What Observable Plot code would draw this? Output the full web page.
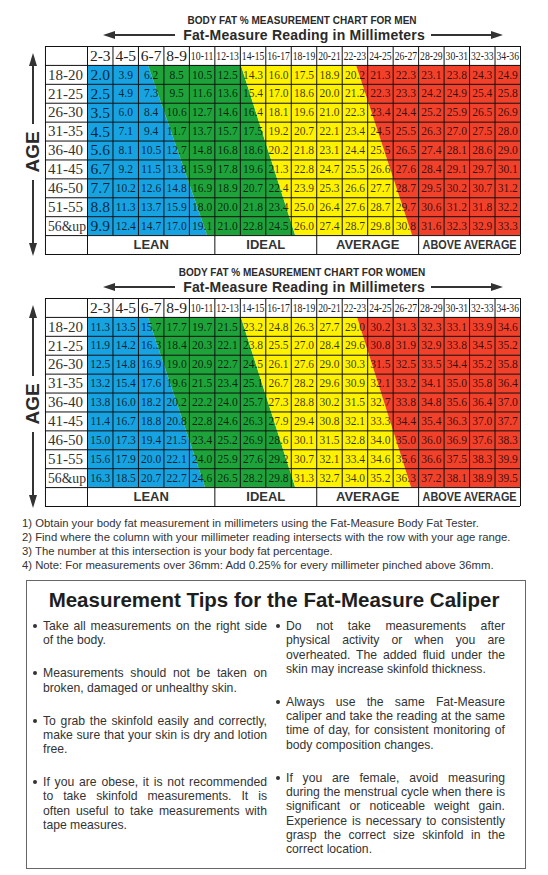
<!DOCTYPE html>
<html>
<head>
<meta charset="utf-8">
<script src="https://cdn.jsdelivr.net/npm/d3@7"></script>
<script src="https://cdn.jsdelivr.net/npm/@observablehq/plot@0.6"></script>
<style>
  body { margin: 0; background: #fff; }
  #page { position: relative; width: 548px; height: 875px; overflow: hidden;
          font-family: "Liberation Sans", Arial, sans-serif; color: #222; background: #fff; }
  .abs { position: absolute; }
  .title { font-weight: bold; font-size: 10px; white-space: nowrap; transform: translate(-50%, -50%); color: #2a2a2a; }
  .subtitle { font-weight: bold; font-size: 14px; letter-spacing: 0.2px; white-space: nowrap; transform: translate(-50%, -50%); color: #2a2a2a; }
  .age { font-weight: bold; font-size: 19px; white-space: nowrap; transform: translate(-50%, -50%) rotate(-90deg); color: #2a2a2a; }
  .line { background: #333; }
  .notes { font-size: 11.3px; line-height: 14px; color: #333; white-space: nowrap; }
  .box { border: 1.5px solid #666; box-sizing: border-box; }
  .boxhead { font-weight: bold; font-size: 20.5px; white-space: nowrap; transform: translateX(-50%); color: #1e1e1e; }
  .col { font-size: 12.2px; line-height: 14.3px; color: #333; }
  .para { position: relative; margin-bottom: 18.7px; }
  .para .ln { text-align: justify; text-align-last: justify; white-space: nowrap; }
  .para .ln.last { text-align-last: left; }
  .bullet { position: absolute; left: -10px; top: 5px; width: 4px; height: 4px; border-radius: 50%; background: #333; }
</style>
</head>
<body>
<div id="page"></div>
<script>
// ---------- data ----------
const mmColumns = ["2-3","4-5","6-7","8-9","10-11","12-13","14-15","16-17","18-19","20-21","22-23","24-25","26-27","28-29","30-31","32-33","34-36"];
const ageGroups = ["18-20","21-25","26-30","31-35","36-40","41-45","46-50","51-55","56&up"];

const menFat = [
  [2.0, 3.9, 6.2, 8.5,10.5,12.5,14.3,16.0,17.5,18.9,20.2,21.3,22.3,23.1,23.8,24.3,24.9],
  [2.5, 4.9, 7.3, 9.5,11.6,13.6,15.4,17.0,18.6,20.0,21.2,22.3,23.3,24.2,24.9,25.4,25.8],
  [3.5, 6.0, 8.4,10.6,12.7,14.6,16.4,18.1,19.6,21.0,22.3,23.4,24.4,25.2,25.9,26.5,26.9],
  [4.5, 7.1, 9.4,11.7,13.7,15.7,17.5,19.2,20.7,22.1,23.4,24.5,25.5,26.3,27.0,27.5,28.0],
  [5.6, 8.1,10.5,12.7,14.8,16.8,18.6,20.2,21.8,23.1,24.4,25.5,26.5,27.4,28.1,28.6,29.0],
  [6.7, 9.2,11.5,13.8,15.9,17.8,19.6,21.3,22.8,24.7,25.5,26.6,27.6,28.4,29.1,29.7,30.1],
  [7.7,10.2,12.6,14.8,16.9,18.9,20.7,22.4,23.9,25.3,26.6,27.7,28.7,29.5,30.2,30.7,31.2],
  [8.8,11.3,13.7,15.9,18.0,20.0,21.8,23.4,25.0,26.4,27.6,28.7,29.7,30.6,31.2,31.8,32.2],
  [9.9,12.4,14.7,17.0,19.1,21.0,22.8,24.5,26.0,27.4,28.7,29.8,30.8,31.6,32.3,32.9,33.3]
];
const womenFat = [
  [11.3,13.5,15.7,17.7,19.7,21.5,23.2,24.8,26.3,27.7,29.0,30.2,31.3,32.3,33.1,33.9,34.6],
  [11.9,14.2,16.3,18.4,20.3,22.1,23.8,25.5,27.0,28.4,29.6,30.8,31.9,32.9,33.8,34.5,35.2],
  [12.5,14.8,16.9,19.0,20.9,22.7,24.5,26.1,27.6,29.0,30.3,31.5,32.5,33.5,34.4,35.2,35.8],
  [13.2,15.4,17.6,19.6,21.5,23.4,25.1,26.7,28.2,29.6,30.9,32.1,33.2,34.1,35.0,35.8,36.4],
  [13.8,16.0,18.2,20.2,22.2,24.0,25.7,27.3,28.8,30.2,31.5,32.7,33.8,34.8,35.6,36.4,37.0],
  [11.4,16.7,18.8,20.8,22.8,24.6,26.3,27.9,29.4,30.8,32.1,33.3,34.4,35.4,36.3,37.0,37.7],
  [15.0,17.3,19.4,21.5,23.4,25.2,26.9,28.6,30.1,31.5,32.8,34.0,35.0,36.0,36.9,37.6,38.3],
  [15.6,17.9,20.0,22.1,24.0,25.9,27.6,29.2,30.7,32.1,33.4,34.6,35.6,36.6,37.5,38.3,39.9],
  [16.3,18.5,20.7,22.7,24.6,26.5,28.2,29.8,31.3,32.7,34.0,35.2,36.3,37.2,38.1,38.9,39.5]
];

const zoneNames = ["LEAN","IDEAL","AVERAGE","ABOVE AVERAGE"];
const zoneSpans = [5, 4, 4, 4];               // columns under each footer label
const zoneColors = ["#17a2e2","#1ea33b","#fff200","#f2412b"];
// diagonal zone boundaries (in column units) at the top and bottom of the table
const menBoundTop = [2.39, 6.04, 10.56];
const menBoundBottom = [4.71, 8.17, 12.76];
const womenBoundTop = [2.39, 6.04, 10.6];
const womenBoundBottom = [4.63, 8.17, 12.72];

const notes = [
  "1) Obtain your body fat measurement in millimeters using the Fat-Measure Body Fat Tester.",
  "2) Find where the column with your millimeter reading intersects with the row with your age range.",
  "3) The number at this intersection is your body fat percentage.",
  "4) Note: For measurements over 36mm: Add 0.25% for every millimeter pinched above 36mm."
];
const tipsHeading = "Measurement Tips for the Fat-Measure Caliper";
const tipsLeft = [
  ["Take all measurements on the right side", "of the body."],
  ["Measurements should not be taken on", "broken, damaged or unhealthy skin."],
  ["To grab the skinfold easily and correctly,", "make sure that your skin is dry and lotion", "free."],
  ["If you are obese, it is not recommended", "to take skinfold measurements. It is", "often useful to take measurements with", "tape measures."]
];
const tipsRight = [
  ["Do not take measurements after", "physical activity or when you are", "overheated. The added fluid under the", "skin may increase skinfold thickness."],
  ["Always use the same Fat-Measure", "caliper and take the reading at the same", "time of day, for consistent monitoring of", "body composition changes."],
  ["If you are female, avoid measuring", "during the menstrual cycle when there is", "significant or noticeable weight gain.", "Experience is necessary to consistently", "grasp the correct size skinfold in the", "correct location."]
];

// ---------- layout helpers ----------
const page = document.getElementById("page");
const AGE_COL = 1.65; // width of age-label column, in data-column units

function el(cls, style, text) {
  const d = document.createElement("div");
  d.className = "abs " + cls;
  Object.assign(d.style, style);
  if (text != null) d.textContent = text;
  page.appendChild(d);
  return d;
}
function hArrow(xTail, xTip, y) {
  const left = Math.min(xTail, xTip), w = Math.abs(xTip - xTail);
  el("line", {left: left + "px", top: (y - 0.75) + "px", width: (w - 6) + "px", height: "1.5px",
              marginLeft: (xTip < xTail ? 6 : 0) + "px"});
  const head = el("", {top: (y - 4) + "px", width: 0, height: 0,
    borderTop: "4px solid transparent", borderBottom: "4px solid transparent"});
  if (xTip < xTail) { head.style.left = xTip + "px"; head.style.borderRight = "12px solid #333"; }
  else { head.style.left = (xTip - 12) + "px"; head.style.borderLeft = "12px solid #333"; }
}
function vArrow(x, yTail, yTip) {
  const top = Math.min(yTail, yTip), h = Math.abs(yTip - yTail);
  el("line", {left: (x - 0.9) + "px", top: (top + (yTip < yTail ? 6 : 0)) + "px", width: "1.8px", height: (h - 6) + "px"});
  const head = el("", {left: (x - 4.5) + "px", width: 0, height: 0,
    borderLeft: "4.5px solid transparent", borderRight: "4.5px solid transparent"});
  if (yTip < yTail) { head.style.top = yTip + "px"; head.style.borderBottom = "13px solid #333"; }
  else { head.style.top = (yTip - 13) + "px"; head.style.borderTop = "13px solid #333"; }
}

function fatTable(values, bTop, bBottom, bigFirstCol) {
  const nCols = mmColumns.length, nRows = ageGroups.length, last = zoneNames.length - 1;
  const zoneAreas = zoneNames.flatMap((zone, i) => [
    {zone, y: 0,     x1: i === 0 ? 0 : bTop[i - 1],    x2: i === last ? nCols : bTop[i]},
    {zone, y: nRows, x1: i === 0 ? 0 : bBottom[i - 1], x2: i === last ? nCols : bBottom[i]}
  ]);
  const cells = values.flatMap((row, r) => row.map((v, c) => ({r, c, v})));
  let acc = 0;
  const footer = zoneNames.map((z, i) => { const s = acc; acc += zoneSpans[i]; return {z, x1: s, x2: acc}; });
  const footerEdges = [-AGE_COL, 0, ...footer.map(d => d.x2)];
  const colEdges = [-AGE_COL, ...d3.range(0, nCols + 1)];
  const rowEdges = d3.range(-1, nRows + 2);
  const big = d => bigFirstCol && d.c === 0;

  const svg = Plot.plot({
    width: 548, height: 210,
    marginTop: 1, marginBottom: 1, marginLeft: 87, marginRight: 28,
    x: {domain: [0, nCols], axis: null},
    y: {domain: [-1, nRows + 1], reverse: true, axis: null},
    color: {domain: zoneNames, range: zoneColors},
    style: {fontFamily: "'Liberation Serif', 'Times New Roman', serif", background: "transparent", overflow: "visible"},
    marks: [
      Plot.areaX(zoneAreas, {y: "y", x1: "x1", x2: "x2", fill: "zone", curve: "linear"}),
      Plot.ruleX(colEdges, {x: d => d, y1: -1, y2: nRows, stroke: "#111", strokeWidth: 1}),
      Plot.ruleX(footerEdges, {x: d => d, y1: nRows, y2: nRows + 1, stroke: "#111", strokeWidth: 1}),
      Plot.ruleY(rowEdges, {y: d => d, x1: -AGE_COL, x2: nCols, stroke: "#111", strokeWidth: 1}),
      Plot.text(mmColumns, {filter: d => d.length <= 3, x: (d, i) => i + 0.5, y: -0.5, text: d => d, fontSize: 15.5, fill: "#222"}),
      Plot.text(mmColumns, {filter: d => d.length > 3, x: (d, i) => i + 0.5, y: -0.5, text: d => d, fontSize: 12, fill: "#222"}),
      Plot.text(ageGroups, {x: -AGE_COL, dx: 2.5, textAnchor: "start", y: (d, i) => i + 0.5, text: d => d,
                            fontSize: 15, fill: "#333"}),
      Plot.text(cells, {filter: d => !big(d), x: d => d.c + 0.5, y: d => d.r + 0.5, text: d => d.v.toFixed(1),
                        fontSize: 11.5, fill: "#000", fillOpacity: 0.78}),
      Plot.text(cells, {filter: big, x: d => d.c + 0.5, y: d => d.r + 0.5, text: d => d.v.toFixed(1),
                        fontSize: 15.5, fill: "#000", fillOpacity: 0.78}),
      Plot.text(footer, {x: d => (d.x1 + d.x2) / 2, y: nRows + 0.5, text: "z", fontSize: 13, fontWeight: "bold",
                         fontFamily: "'Liberation Sans', Arial, sans-serif", fill: "#333"})
    ]
  });
  // condense narrow labels like the printed chart
  const wide = new Set(mmColumns.filter(d => d.length > 3));
  d3.select(svg).selectAll("text").each(function () {
    const t = this.textContent;
    if (wide.has(t)) { this.setAttribute("textLength", 22.5); this.setAttribute("lengthAdjust", "spacingAndGlyphs"); }
    if (t === "ABOVE AVERAGE") { this.setAttribute("textLength", 94); this.setAttribute("lengthAdjust", "spacingAndGlyphs"); }
    if (t === "56&up") { this.setAttribute("textLength", 38); this.setAttribute("lengthAdjust", "spacingAndGlyphs"); }
  });
  return svg;
}

function section(title, values, bTop, bBottom, bigFirst, y0) {
  el("title", {left: "302px", top: (y0 - 26) + "px"}, title);
  el("subtitle", {left: "304px", top: (y0 - 11) + "px"}, "Fat-Measure Reading in Millimeters");
  hArrow(175, 103, y0 - 11);
  hArrow(431, 503, y0 - 11);
  const svg = fatTable(values, bTop, bBottom, bigFirst);
  svg.style.position = "absolute";
  svg.style.left = "0px";
  svg.style.top = (y0 - 1) + "px";
  page.appendChild(svg);
  const mid = y0 + 106;
  el("age", {left: "33px", top: mid + "px"}, "AGE");
  vArrow(33, mid - 28, y0 + 7);
  vArrow(33, mid + 28, y0 + 210);
}

section("BODY FAT % MEASUREMENT CHART FOR MEN", menFat, menBoundTop, menBoundBottom, true, 46);
section("BODY FAT % MEASUREMENT CHART FOR WOMEN", womenFat, womenBoundTop, womenBoundBottom, false, 298);

// notes
const n = el("notes", {left: "22px", top: "516px"});
notes.forEach(t => { const d = document.createElement("div"); d.textContent = t; n.appendChild(d); });

// tips box
el("box", {left: "26px", top: "580px", width: "500px", height: "289px"});
el("boxhead", {left: "274px", top: "588px"}, tipsHeading);
function column(paras, left, width) {
  const c = el("col", {left: left + "px", top: "619px", width: width + "px"});
  paras.forEach(lines => {
    const p = document.createElement("div");
    p.className = "para";
    const b = document.createElement("div"); b.className = "bullet"; p.appendChild(b);
    lines.forEach((t, i) => {
      const l = document.createElement("div");
      l.className = "ln" + (i === lines.length - 1 ? " last" : "");
      l.textContent = t;
      p.appendChild(l);
    });
    c.appendChild(p);
  });
}
column(tipsLeft, 43, 224);
column(tipsRight, 286, 219);
</script>
</body>
</html>
